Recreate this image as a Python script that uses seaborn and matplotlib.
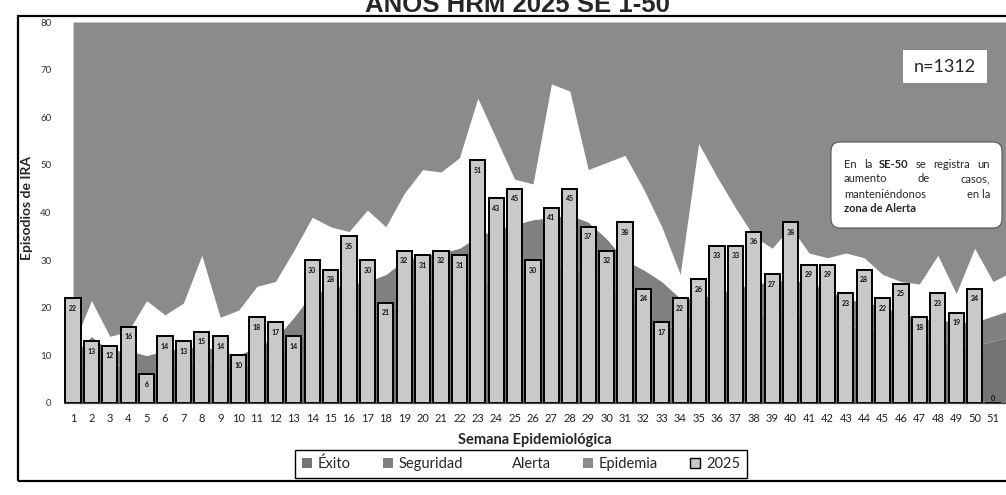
import matplotlib
matplotlib.use("Agg")
import matplotlib.pyplot as plt
import matplotlib.transforms as mtransforms
from matplotlib.patches import Patch, Rectangle, FancyBboxPatch
import pandas as pd
import seaborn as sns

# ---------------- data ----------------
weeks = list(range(1, 53))
bar_weeks = list(range(1, 52))
cases_2025 = [22, 13, 12, 16, 6, 14, 13, 15, 14, 10,
              18, 17, 14, 30, 28, 35, 30, 21, 32, 31,
              32, 31, 51, 43, 45, 30, 41, 45, 37, 32,
              38, 24, 17, 22, 26, 33, 33, 36, 27, 38,
              29, 29, 23, 28, 22, 25, 18, 23, 19, 24,
              0]
exito_top = [7, 9, 8, 8, 5, 8, 8, 9, 8, 7,
             9, 10, 12, 16, 17, 18, 18, 19, 21, 22,
             22, 23, 25, 26, 27, 28, 28, 29, 27, 25,
             22, 20, 16, 16, 16, 17, 18, 18, 19, 19,
             18, 17, 16, 16, 15, 14, 13, 13, 12, 12,
             13, 14]
seguridad_top = [10, 14, 11, 11, 10, 11, 11.5, 12, 11, 10,
                 12, 13.5, 18, 23, 24, 25, 25.5, 27, 30, 31,
                 31.5, 32.5, 35, 36.5, 37.5, 38.5, 39, 39.5, 38, 34.5,
                 30, 28, 25.5, 22, 22, 23, 24, 25, 25.5, 26,
                 25, 24, 21.5, 21.5, 20, 19, 17.5, 17.5, 17, 17,
                 18.3, 19.6]
alerta_top = [12, 21.5, 14, 15, 21.5, 18.5, 21, 31, 18, 19.5,
              24.5, 25.5, 32, 39, 37, 36, 40.5, 37, 44, 49,
              48.5, 51.5, 64, 55.5, 47, 46, 67, 65.5, 49, 50.5,
              52, 45, 37, 27, 54.5, 47.5, 41, 35, 32.5, 37,
              31.5, 30.5, 31.5, 30.5, 27, 25.5, 25, 31, 23, 32.5,
              25.5, 27.5]
y_max = 80
y_ticks = [0, 10, 20, 30, 40, 50, 60, 70, 80]
legend_labels = ["Éxito", "Seguridad", "Alerta", "Epidemia", "2025"]
title_text = "AÑOS HRM 2025 SE 1-50"
n_text = "n=1312"

# ---------------- style ----------------
COL_EXITO = "#747474"
COL_SEG = "#808080"
COL_ALERTA = "#ffffff"
COL_EPI = "#8b8b8b"
COL_BAR = "#c9c9c9"

sns.set_theme(style="white")
plt.rcParams['font.family'] = ['Lato', 'DejaVu Sans']

W, H = 1006, 495
fig = plt.figure(figsize=(W / 100, H / 100), dpi=100)
fig.patch.set_facecolor("white")
IDT = mtransforms.IdentityTransform()


def px(x, y):
    return x, H - y


ax_left, ax_right, ax_top, ax_bot = 63.8, 1020.6, 22, 403
ax = fig.add_axes([ax_left / W, 1 - ax_bot / H,
                   (ax_right - ax_left) / W, (ax_bot - ax_top) / H])
ax.set_facecolor("white")

# corridor zones
ax.fill_between(weeks, 0, exito_top, color=COL_EXITO, lw=0, zorder=0.6)
ax.fill_between(weeks, exito_top, seguridad_top, color=COL_SEG, lw=0, zorder=0.6)
ax.fill_between(weeks, seguridad_top, alerta_top, color=COL_ALERTA, lw=0, zorder=0.6)
ax.fill_between(weeks, alerta_top, y_max, color=COL_EPI, lw=0, zorder=0.6)

# bars
df = pd.DataFrame({"semana": bar_weeks, "casos": cases_2025})
sns.barplot(data=df, x="semana", y="casos", native_scale=True, color=COL_BAR,
            saturation=1, edgecolor="black", linewidth=1.4, width=0.82,
            errorbar=None, ax=ax, zorder=2)

for w, v in zip(bar_weeks, cases_2025):
    ax.text(w, max(v - 2.1, 0.9), str(v), ha="center", va="center",
            fontsize=5, fontweight="bold", color="#111111", zorder=3)

ax.set_xlim(0.5, 52.5)
ax.set_ylim(0, y_max)
ax.set_xticks(weeks)
ax.set_xticklabels([str(w) for w in weeks])
ax.set_yticks(y_ticks)
ax.set_yticklabels([str(t) for t in y_ticks])
ax.tick_params(axis="x", length=0, pad=7, labelsize=8, labelcolor="#222222")
ax.tick_params(axis="y", length=0, pad=9, labelsize=7, labelcolor="#333333")
ax.set_xlabel("")
ax.set_ylabel("")
for s in ["top", "right", "left"]:
    ax.spines[s].set_visible(False)
ax.spines["bottom"].set_color("#444444")
ax.spines["bottom"].set_linewidth(0.9)
ax.grid(False)

# outer frame
fig.add_artist(Rectangle(px(18, 481), 1100, 465, transform=IDT, fill=False,
                         ec="black", lw=1.6, zorder=10))

# title (cut at top, as in the scan)
fig.text(*px(517, 12), title_text, transform=IDT, ha="center", va="baseline",
         fontsize=18.5, fontweight="bold", family=["Liberation Sans", "DejaVu Sans"])

# axis labels
fig.text(*px(27, 208), "Episodios de IRA", transform=IDT, rotation=90,
         ha="center", va="center", fontsize=10, fontweight="bold")
fig.text(*px(535, 440), "Semana Epidemiológica", transform=IDT,
         ha="center", va="center", fontsize=10.5, fontweight="bold")

# legend
handles = [Patch(facecolor=COL_EXITO, edgecolor="none"),
           Patch(facecolor=COL_SEG, edgecolor="none"),
           Patch(facecolor=COL_ALERTA, edgecolor="none"),
           Patch(facecolor=COL_EPI, edgecolor="none"),
           Patch(facecolor=COL_BAR, edgecolor="black", linewidth=1)]
leg = fig.legend(handles, legend_labels, loc="center",
                 bbox_to_anchor=(521 / W, 1 - 464 / H), ncol=5, frameon=True,
                 fancybox=False, edgecolor="black", fontsize=10.5,
                 handlelength=0.7, handleheight=0.7, handletextpad=0.4,
                 columnspacing=2.2, borderpad=0.45)
leg.get_frame().set_linewidth(1.0)
leg.get_frame().set_alpha(None)
leg.get_frame().set_facecolor("white")

# n=1312 box
fig.add_artist(Rectangle(px(903, 83), 84, 33, transform=IDT, fc="white",
                         ec="none", zorder=5))
fig.text(*px(945, 66.5), n_text, transform=IDT, ha="center", va="center",
         fontsize=13, zorder=6)

# annotation box
fig.add_artist(FancyBboxPatch(px(831, 228), 171, 86,
                              boxstyle="round,pad=0,rounding_size=9",
                              transform=IDT, fc="white", ec="#555555",
                              lw=0.8, zorder=5))

renderer = fig.canvas.get_renderer()
FS = 8


def justified(words, y, left, right):
    texts = []
    total = 0
    for w, bold in words:
        t = fig.text(0, 0, w, transform=IDT, fontsize=FS,
                     fontweight="bold" if bold else "normal",
                     ha="left", va="center", zorder=6)
        wd = t.get_window_extent(renderer).width
        texts.append((t, wd))
        total += wd
    gap = (right - left - total) / max(len(words) - 1, 1)
    x = left
    for t, wd in texts:
        t.set_position(px(x, y))
        x += wd + gap


L, R = 844, 990
justified([("En", False), ("la", False), ("SE-50", True), ("se", False),
           ("registra", False), ("un", False)], 164, L, R)
justified([("aumento", False), ("de", False), ("casos,", False)], 179, L, R)
justified([("manteniéndonos", False), ("en la", False)], 194, L, R)
fig.text(*px(L, 209), "zona de Alerta", transform=IDT, fontsize=FS,
         fontweight="bold", ha="left", va="center", zorder=6)

fig.savefig("out.png", dpi=100, facecolor="white")
